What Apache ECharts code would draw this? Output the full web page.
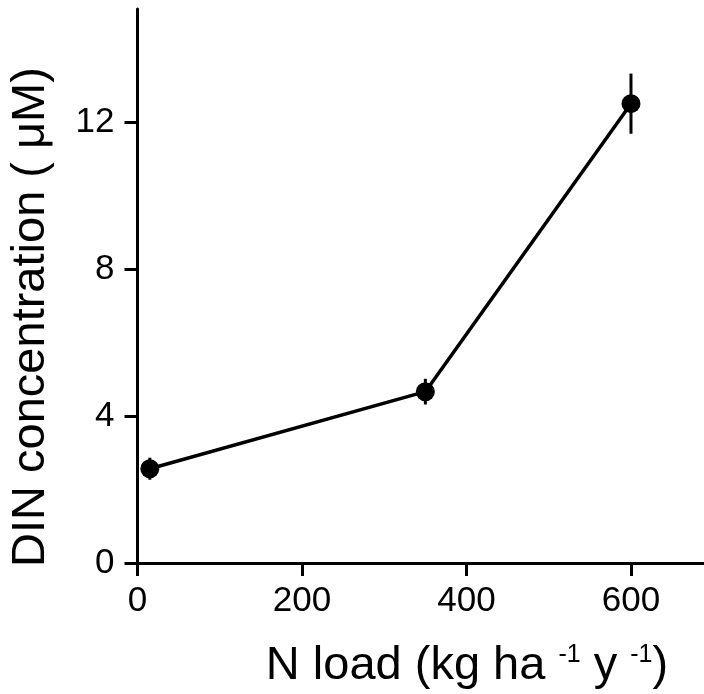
<!DOCTYPE html>
<html>
<head>
<meta charset="utf-8">
<script src="https://cdn.jsdelivr.net/npm/echarts@6/dist/echarts.min.js"></script>
<style>html,body{margin:0;padding:0;background:#fff}#c{width:704px;height:694px}</style>
</head>
<body>
<div id="c"></div>
<script>
// Data
var nLoad = [15, 350, 600];
var dinMean = [2.57, 4.67, 12.52];
var dinErr = [0.3, 0.35, 0.82];
var xTicks = [0, 200, 400, 600];
var yTicks = [0, 4, 8, 12];
var xTitle = 'N load (kg ha {sup|-1} y {sup|-1})';
var yTitle = 'DIN concentration ( \u03bcM)';

var FONT = '"Liberation Sans", Arial, sans-serif';
var chart = echarts.init(document.getElementById('c'), null, {renderer: 'canvas'});

var lineData = nLoad.map(function (x, i) { return [x, dinMean[i]]; });
var errData = nLoad.map(function (x, i) { return [x, dinMean[i] - dinErr[i], dinMean[i] + dinErr[i]]; });

chart.setOption({
  backgroundColor: '#ffffff',
  animation: false,
  grid: {left: 137.5, top: 9, width: 567.5, height: 554, containLabel: false, outerBoundsMode: 'none'},
  xAxis: {
    type: 'value', min: 0, max: 690,
    axisLine: {show: true, lineStyle: {color: '#000', width: 3}},
    axisTick: {show: true, inside: false, length: 13, lineStyle: {color: '#000', width: 3}, customValues: xTicks},
    axisLabel: {show: true, margin: 21, fontSize: 35, color: '#000', fontFamily: FONT, customValues: xTicks},
    splitLine: {show: false}
  },
  yAxis: {
    type: 'value', min: 0, max: 15.1,
    axisLine: {show: true, lineStyle: {color: '#000', width: 3}},
    axisTick: {show: true, inside: false, length: 13, lineStyle: {color: '#000', width: 3}, customValues: yTicks},
    axisLabel: {show: true, margin: 23, fontSize: 35, color: '#000', fontFamily: FONT, customValues: yTicks},
    splitLine: {show: false}
  },
  graphic: [
    {
      type: 'text', x: 467, y: 666,
      style: {
        text: xTitle, fill: '#000', font: '47px ' + FONT,
        align: 'center', verticalAlign: 'middle',
        rich: {sup: {fontSize: 25, fontFamily: FONT, fill: '#000', verticalAlign: 'top', lineHeight: 26}}
      }
    },
    {
      type: 'text', x: 31, y: 317, rotation: Math.PI / 2,
      style: {text: yTitle, fill: '#000', font: '47px ' + FONT, align: 'center', verticalAlign: 'middle'}
    }
  ],
  series: [
    {
      type: 'custom',
      data: errData,
      renderItem: function (params, api) {
        var x = api.value(0);
        var lo = api.coord([x, api.value(1)]);
        var hi = api.coord([x, api.value(2)]);
        return {type: 'line', shape: {x1: lo[0], y1: lo[1], x2: hi[0], y2: hi[1]}, style: {stroke: '#000', lineWidth: 3}};
      },
      z: 1
    },
    {
      type: 'line',
      data: lineData,
      symbol: 'circle', symbolSize: 19,
      lineStyle: {color: '#000', width: 3.5},
      itemStyle: {color: '#000'},
      z: 2
    }
  ]
});
</script>
</body>
</html>
